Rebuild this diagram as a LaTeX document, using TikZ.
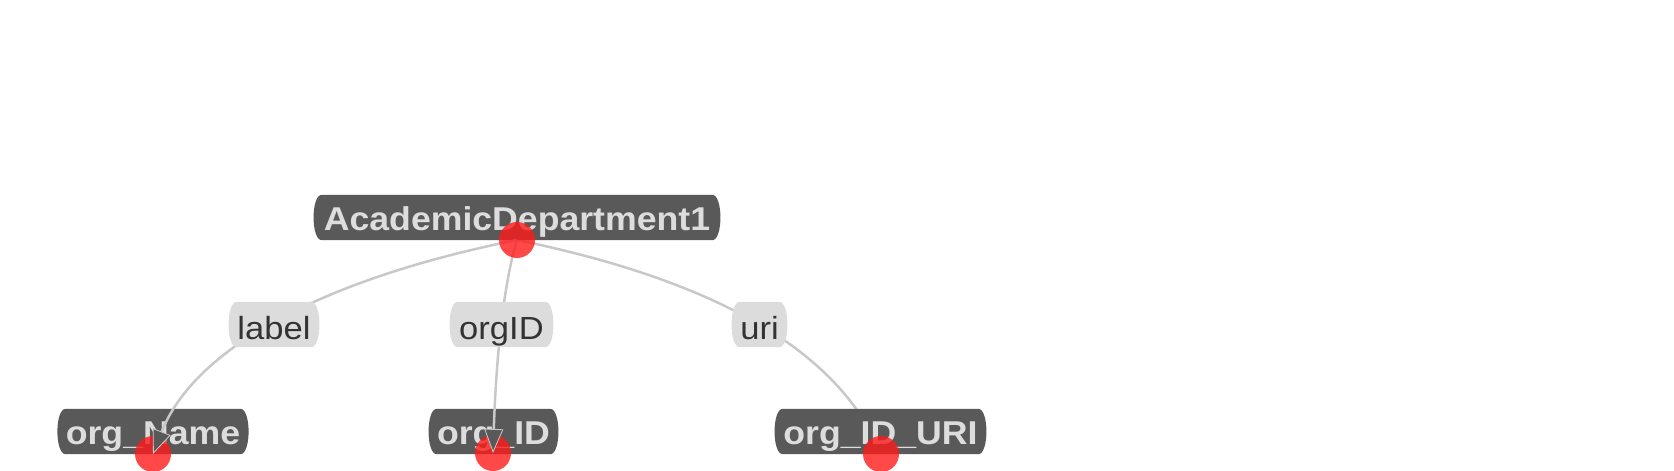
\documentclass[tikz,border=0pt]{standalone}
\usepackage{fontspec}
\setmainfont{Liberation Sans}[FakeStretch=1.08]
\usetikzlibrary{arrows.meta}
\definecolor{boxdark}{HTML}{595959}
\definecolor{boxtext}{HTML}{DDDDDD}
\definecolor{lblfill}{HTML}{DCDCDC}
\definecolor{lbltext}{HTML}{333333}
\definecolor{edgecol}{HTML}{C8C8C8}
\definecolor{dotred}{HTML}{FF1A1A}
\pgfdeclarelayer{lzero}
\pgfdeclarelayer{lone}
\pgfdeclarelayer{ltwo}
\pgfdeclarelayer{lthree}
\pgfdeclarelayer{lfour}
\pgfsetlayers{lzero,lone,ltwo,lthree,lfour,main}
\newcommand\bulgebox[2]{\fill[#2] (#1.north west) .. controls ([xshift=-11pt]#1.north west) and ([xshift=-11pt]#1.south west) .. (#1.south west) -- (#1.south east) .. controls ([xshift=11pt]#1.south east) and ([xshift=11pt]#1.north east) .. (#1.north east) -- cycle;}
\tikzset{
  entity/.style={inner sep=0pt, minimum height=45pt, text height=26pt, text depth=0pt,
    font=\fontsize{33}{38}\selectfont\bfseries, text=boxtext},
  relation/.style={inner sep=0pt, minimum height=45pt, text height=30pt, text depth=0pt,
    font=\fontsize{32}{38}\selectfont, text=lbltext},
  reddot/.style={circle, fill=dotred, fill opacity=0.8, minimum size=36pt, inner sep=0pt},
  link/.style={draw=edgecol, line width=2.5pt},
  arrowend/.style={-{Triangle[length=24pt,width=19pt,fill=boxdark,line width=0.8pt]}}
}
\begin{document}
\begin{tikzpicture}[x=1pt,y=-1pt]
\useasboundingbox (0,0) rectangle (1674,471);
% dark entity boxes
\begin{pgfonlayer}{ltwo}
\node[entity, minimum width=390pt] (acad) at (517,217.5) {AcademicDepartment1};
\node[entity, minimum width=172pt] (oname) at (153,431.5) {org\_Name};
\node[entity, minimum width=113pt] (oid) at (493.5,431.5) {org\_ID};
\node[entity, minimum width=195pt] (ouri) at (880.5,431.5) {org\_ID\_URI};
\end{pgfonlayer}
\begin{pgfonlayer}{lone}
\bulgebox{acad}{boxdark}
\bulgebox{oname}{boxdark}
\bulgebox{oid}{boxdark}
\bulgebox{ouri}{boxdark}
\end{pgfonlayer}
% red points
\node[reddot] (dA) at (517,240) {};
\begin{pgfonlayer}{lthree}
\node[reddot] (dN) at (153,454) {};
\node[reddot] (dI) at (493,453) {};
\node[reddot] (dU) at (881,454) {};
\end{pgfonlayer}
% relation labels
\node[relation, minimum width=74pt] (rlabel) at (274,324.5) {label};
\node[relation, minimum width=87pt] (rorgid) at (501.5,324.5) {orgID};
\node[relation, minimum width=39pt] (ruri) at (759.5,324.5) {uri};
\begin{pgfonlayer}{lfour}
\bulgebox{rlabel}{lblfill}
\bulgebox{rorgid}{lblfill}
\bulgebox{ruri}{lblfill}
\end{pgfonlayer}
% connectors
\begin{pgfonlayer}{lthree}
\draw[link, arrowend] (dA.center) .. controls (314.3,280.7) and (193,352) .. (dN.center);
\draw[link, arrowend] (dA.center) .. controls (504.3,281.3) and (496.3,352.7) .. (dI.center);
\end{pgfonlayer}
\begin{pgfonlayer}{lzero}
\draw[link] (dA.center) .. controls (719,281.3) and (840.3,352.7) .. (dU.center);
\end{pgfonlayer}
\end{tikzpicture}
\end{document}
